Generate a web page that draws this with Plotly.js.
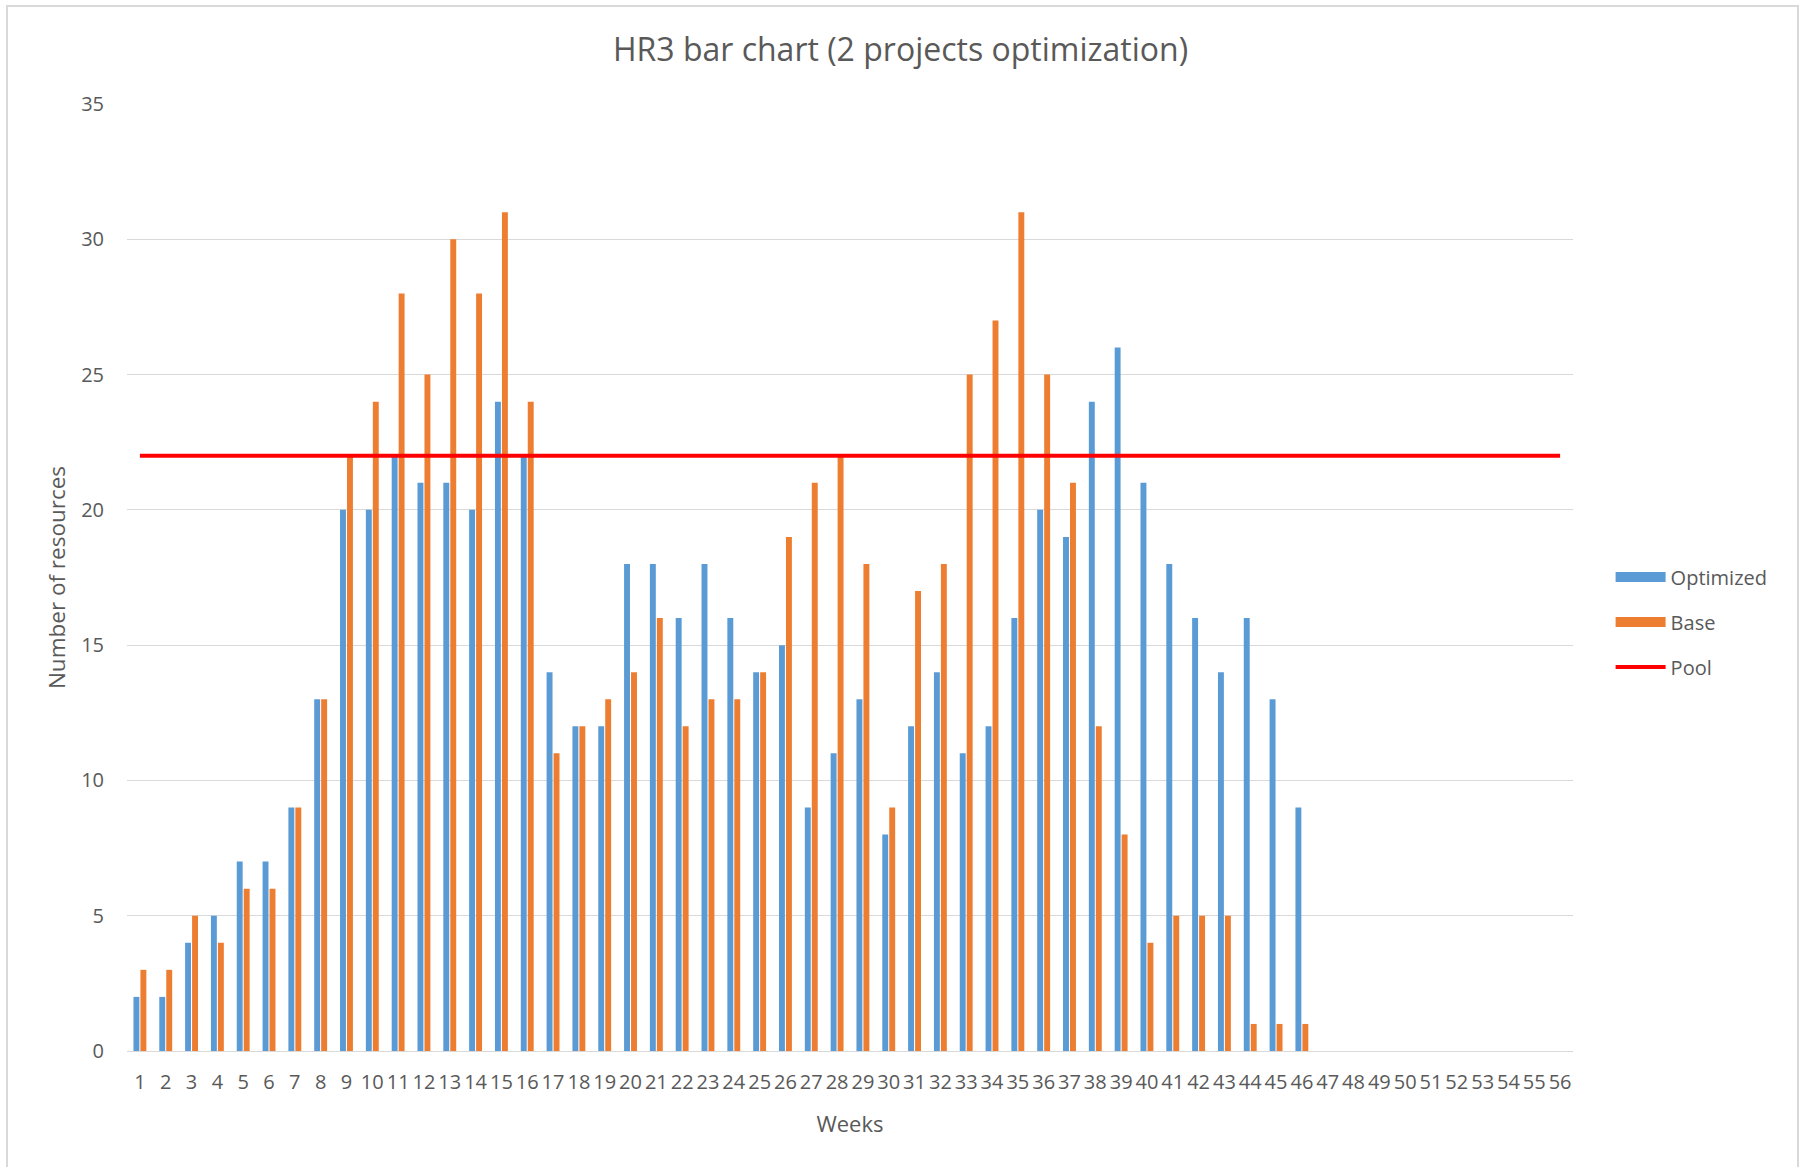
<!DOCTYPE html>
<html>
<head>
<meta charset="utf-8">
<script src="https://cdn.plot.ly/plotly-3.0.1.min.js"></script>
<style>html,body{margin:0;padding:0;background:#fff;}#chart{width:1801px;height:1167px;}</style>
</head>
<body>
<div id="chart"></div>
<script>
const weeks = ['1','2','3','4','5','6','7','8','9','10','11','12','13','14','15','16','17','18','19','20',
  '21','22','23','24','25','26','27','28','29','30','31','32','33','34','35','36','37','38','39','40',
  '41','42','43','44','45','46','47','48','49','50','51','52','53','54','55','56'];
const optimized = [2,2,4,5,7,7,9,13,20,20,22,21,21,20,24,22,14,12,12,18,18,16,18,16,14,15,9,11,13,8,
  12,14,11,12,16,20,19,24,26,21,18,16,14,16,13,9];
const base = [3,3,5,4,6,6,9,13,22,24,28,25,30,28,31,24,11,12,13,14,16,12,13,13,14,19,21,22,18,9,
  17,18,25,27,31,25,21,12,8,4,5,5,5,1,1,1];
const pool = [22,22,22,22,22,22,22,22,22,22,22,22,22,22,22,22,22,22,22,22,22,22,22,22,22,22,22,22,
  22,22,22,22,22,22,22,22,22,22,22,22,22,22,22,22,22,22,22,22,22,22,22,22,22,22,22,22];
const seriesNames = ['Optimized', 'Base', 'Pool'];
const seriesColors = ['#5B9BD5', '#ED7D31', '#FF0000'];
const chartTitle = 'HR3 bar chart (2 projects optimization)';
const xTitle = 'Weeks';
const yTitle = 'Number of resources';

const F = '"Open Sans", "DejaVu Sans", sans-serif';
const txt = '#595959';

const traces = [
  {type:'bar', name:seriesNames[0], x: weeks.slice(0, optimized.length), y: optimized,
   marker:{color:seriesColors[0]}, showlegend:false},
  {type:'bar', name:seriesNames[1], x: weeks.slice(0, base.length), y: base,
   marker:{color:seriesColors[1]}, showlegend:false},
  {type:'scatter', mode:'lines', name:seriesNames[2], x: weeks, y: pool,
   line:{color:seriesColors[2], width:4}, legendgroup:'c'},
  // legend-only entries giving the wide rectangular swatches of the bar series
  {type:'scatter', mode:'lines', name:seriesNames[0], x:[null], y:[null],
   line:{color:seriesColors[0], width:10}, legendgroup:'a', legendrank:1},
  {type:'scatter', mode:'lines', name:seriesNames[1], x:[null], y:[null],
   line:{color:seriesColors[1], width:10}, legendgroup:'b', legendrank:2}
];
traces[2].legendrank = 3;

const layout = {
  width:1801, height:1167,
  margin:{l:127, r:228, t:104, b:116},
  paper_bgcolor:'#fff', plot_bgcolor:'#fff',
  font:{family:F, color:txt, size:20},
  title:{text:chartTitle, font:{family:F, size:32, color:txt}, x:0.5, xanchor:'center', y:0.957, yanchor:'middle'},
  barmode:'group', bargap:0.46, bargroupgap:0.15,
  xaxis:{type:'category', categoryorder:'array', categoryarray:weeks, range:[-0.5,55.5],
    tickangle:0, ticks:'', showgrid:false, zeroline:false, showline:true, linecolor:'#D9D9D9', linewidth:1,
    tickfont:{family:F, size:20, color:txt}, ticklabelstandoff:13,
    title:{text:xTitle, font:{family:F, size:22, color:txt}, standoff:22}},
  yaxis:{range:[0,35], dtick:5, tick0:0, ticks:'', showgrid:true, gridcolor:'#D9D9D9', gridwidth:1,
    zeroline:false, showline:false, tickfont:{family:F, size:20, color:txt}, ticklabelstandoff:22,
    title:{text:yTitle, font:{family:F, size:22.5, color:txt}, standoff:9}},
  legend:{x:1.026, xanchor:'left', y:0.521, yanchor:'top', traceorder:'grouped', tracegroupgap:16,
    itemwidth:50, font:{family:F, size:20, color:txt}, bgcolor:'rgba(0,0,0,0)'},
  shapes:[{type:'rect', xref:'paper', yref:'paper', x0:-0.083, x1:1.1556, y0:-0.14, y1:1.1035,
    line:{color:'#D9D9D9', width:2}, fillcolor:'rgba(0,0,0,0)', layer:'below'}],
  showlegend:true
};

Plotly.newPlot('chart', traces, layout, {displayModeBar:false, staticPlot:true});
</script>
</body>
</html>
